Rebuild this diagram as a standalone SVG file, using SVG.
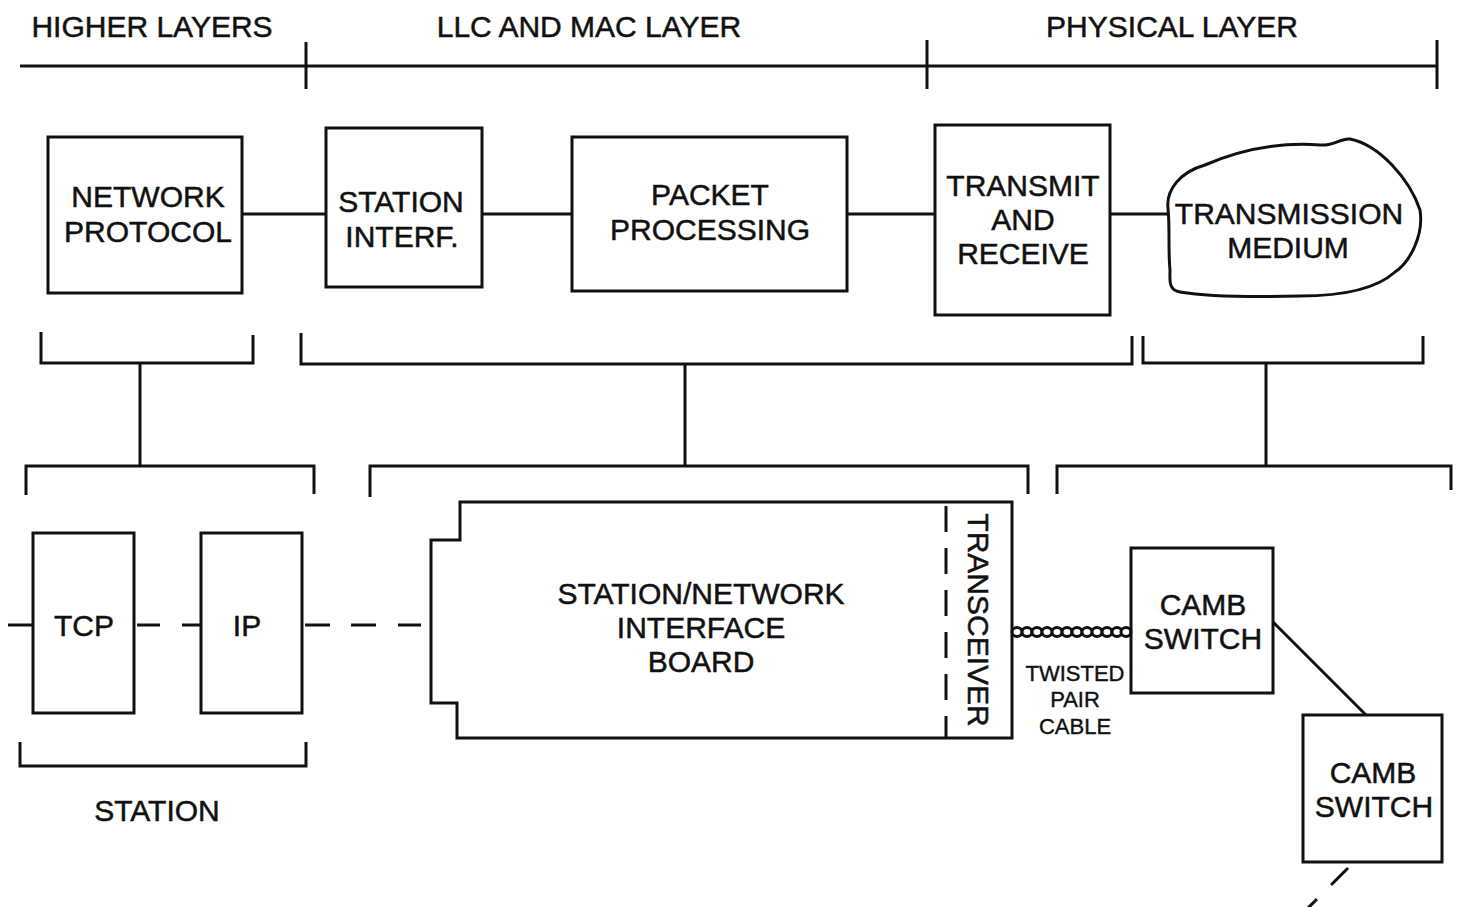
<svg xmlns="http://www.w3.org/2000/svg" width="1460" height="907" viewBox="0 0 1460 907">
<style>
.ln{stroke:#111;stroke-width:3;fill:none;stroke-linecap:butt}
.bx{stroke:#111;stroke-width:3;fill:none}
.t{font-family:"Liberation Sans",Arial,sans-serif;font-size:30px;fill:#111;stroke:#111;stroke-width:0.5;text-anchor:middle}
.s{font-family:"Liberation Sans",Arial,sans-serif;font-size:22px;fill:#111;stroke:#111;stroke-width:0.4;text-anchor:middle}
.dash{stroke:#111;stroke-width:3;fill:none;stroke-dasharray:24 20}
</style>
<rect width="1460" height="907" fill="#fff"/>

<g id="header">
<path class="ln" d="M20,66 H1437 M306,42 V89 M927,40 V89 M1437,40 V89"/>
<text class="t" x="152" y="37">HIGHER LAYERS</text>
<text class="t" x="589" y="37">LLC AND MAC LAYER</text>
<text class="t" x="1172" y="37">PHYSICAL LAYER</text>
</g>

<g id="connectors">
<path class="ln" d="M242,214 H326 M482,214 H572 M847,214 H935 M1110,214 H1168"/>
<path class="ln" d="M41,332 V363 H253 V335 M140,363 V466 M26,495 V466 H314 V494"/>
<path class="ln" d="M301,333 V364 H1132 V336 M685,364 V466 M370,497 V466 H1028 V494"/>
<path class="ln" d="M1143,336 V363 H1423 V336 M1266,363 V466 M1057,494 V466 H1451 V490"/>
<path class="ln" d="M20,742 V766 H306 V742"/>
<path class="ln" d="M8,625 H33"/>
<path class="ln" d="M137,625 H160 M182,625 H201"/>
<path class="ln" d="M305,625 H330 M351,625 H376 M398,625 H421"/>
<path class="ln" d="M1273,622 L1366,715"/>
<path class="dash" d="M1348,868 L1298,918"/>
</g>

<g id="network-protocol">
<rect class="bx" x="48" y="137" width="194" height="156"/>
<text class="t" x="148" y="207">NETWORK</text>
<text class="t" x="148" y="242">PROTOCOL</text>
</g>

<g id="station-interf">
<rect class="bx" x="326" y="128" width="156" height="159"/>
<text class="t" x="401" y="212">STATION</text>
<text class="t" x="402" y="247">INTERF.</text>
</g>

<g id="packet-processing">
<rect class="bx" x="572" y="137" width="275" height="154"/>
<text class="t" x="710" y="205">PACKET</text>
<text class="t" x="710" y="240">PROCESSING</text>
</g>

<g id="transmit-receive">
<rect class="bx" x="935" y="125" width="175" height="190"/>
<text class="t" x="1023" y="196">TRANSMIT</text>
<text class="t" x="1023" y="230">AND</text>
<text class="t" x="1023" y="264">RECEIVE</text>
</g>

<g id="transmission-medium">
<path class="bx" d="M1168,208 C1166,190 1180,172 1205,165 C1240,150 1280,142 1320,145 C1335,146 1340,138 1350,139 C1380,145 1410,180 1420,210 C1424,235 1410,262 1395,272 C1375,290 1340,296 1300,296 C1260,297 1210,297 1180,292 C1168,290 1170,280 1170,270 C1168,250 1170,228 1168,208 Z"/>
<text class="t" x="1289" y="224">TRANSMISSION</text>
<text class="t" x="1288" y="258">MEDIUM</text>
</g>

<g id="tcp">
<rect class="bx" x="33" y="533" width="101" height="180"/>
<text class="t" x="84" y="636">TCP</text>
</g>

<g id="ip">
<rect class="bx" x="201" y="533" width="101" height="180"/>
<text class="t" x="247" y="636">IP</text>
</g>

<g id="interface-board">
<path class="bx" d="M460,502 H1012 V738 H457 V703 H431 V540 H460 Z"/>
<path class="ln" d="M946,506 V738" stroke-dasharray="26 16"/>
<text class="t" x="701" y="604">STATION/NETWORK</text>
<text class="t" x="701" y="638">INTERFACE</text>
<text class="t" x="701" y="672">BOARD</text>
<text class="t" transform="translate(968,620) rotate(90)" x="0" y="0">TRANSCEIVER</text>
</g>

<g id="twisted-pair">
<g stroke="#111" stroke-width="3" fill="#fff">
<ellipse cx="1017" cy="632" rx="5" ry="4.5"/>
<ellipse cx="1027" cy="632" rx="5" ry="4.5"/>
<ellipse cx="1037" cy="632" rx="5" ry="4.5"/>
<ellipse cx="1047" cy="632" rx="5" ry="4.5"/>
<ellipse cx="1057" cy="632" rx="5" ry="4.5"/>
<ellipse cx="1067" cy="632" rx="5" ry="4.5"/>
<ellipse cx="1077" cy="632" rx="5" ry="4.5"/>
<ellipse cx="1087" cy="632" rx="5" ry="4.5"/>
<ellipse cx="1097" cy="632" rx="5" ry="4.5"/>
<ellipse cx="1107" cy="632" rx="5" ry="4.5"/>
<ellipse cx="1117" cy="632" rx="5" ry="4.5"/>
<ellipse cx="1126" cy="632" rx="5" ry="4.5"/>
</g>
<text class="s" x="1075" y="681">TWISTED</text>
<text class="s" x="1075" y="707">PAIR</text>
<text class="s" x="1075" y="734">CABLE</text>
</g>

<g id="camb-switch-1">
<rect class="bx" x="1131" y="548" width="142" height="145"/>
<text class="t" x="1203" y="615">CAMB</text>
<text class="t" x="1203" y="649">SWITCH</text>
</g>

<g id="camb-switch-2">
<rect class="bx" x="1303" y="715" width="139" height="147"/>
<text class="t" x="1373" y="783">CAMB</text>
<text class="t" x="1374" y="817">SWITCH</text>
</g>

<g id="station-label">
<text class="t" x="157" y="821">STATION</text>
</g>
</svg>
